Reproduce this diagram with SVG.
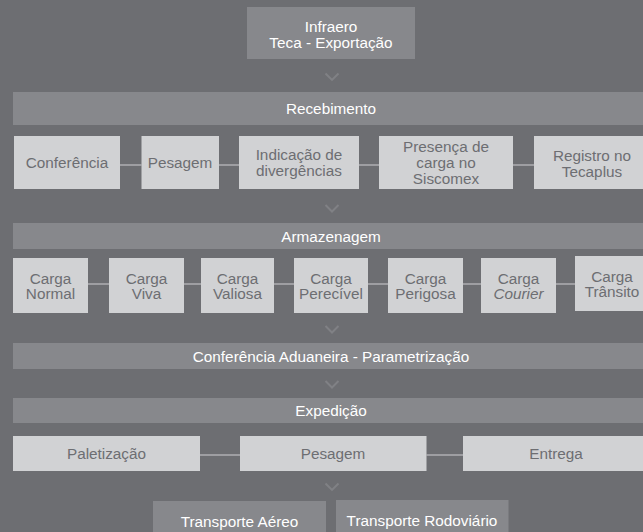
<svg xmlns="http://www.w3.org/2000/svg" width="643" height="532" viewBox="0 0 643 532">
<defs>
<style>
.bg{fill:#6d6e72}
.dk{fill:#87888c}
.lt{fill:#d1d2d4}
text{font-family:"Liberation Sans",Arial,sans-serif;font-size:15.3px;text-anchor:middle}
.tw{fill:#ffffff}
.tg{fill:#6d6e72}
.cn{stroke:#aeafb2;stroke-width:1.5;fill:none}
.ch{stroke:#808185;stroke-width:2;fill:none}
</style>
<path id="chev" d="M-6.5,-3.25 L0,3.25 L6.5,-3.25"/>
</defs>
<rect class="bg" x="0" y="0" width="643" height="532"/>

<g id="connectors">
<path class="cn" d="M120,165H141.5 M219,165H239 M359,165H379 M513,165H534"/>
<path class="cn" d="M88,284H109 M184,284H201 M274,284H294 M368,284H388 M463,284H481 M556,284H575"/>
<path class="cn" d="M200,455H240 M426.5,455H463"/>
<use href="#chev" class="ch" x="332" y="76.7"/>
<use href="#chev" class="ch" x="332" y="208.3"/>
<use href="#chev" class="ch" x="332" y="329.3"/>
<use href="#chev" class="ch" x="332" y="384.3"/>
<use href="#chev" class="ch" x="332" y="486.7"/>
</g>

<g id="infraero"><rect class="dk" x="247" y="7" width="168" height="52"/>
<text class="tw" x="331" y="32">Infraero</text><text class="tw" x="331" y="48">Teca - Exportação</text></g>

<g id="recebimento"><rect class="dk" x="13" y="92" width="630" height="33"/>
<text class="tw" x="331" y="114">Recebimento</text></g>

<g id="conferencia"><rect class="lt" x="14" y="136" width="106" height="53"/>
<text class="tg" x="67" y="168">Conferência</text></g>
<g id="pesagem1"><rect class="lt" x="141.5" y="136" width="77.5" height="53"/>
<text class="tg" x="180" y="168">Pesagem</text></g>
<g id="indicacao"><rect class="lt" x="239" y="136" width="120" height="53"/>
<text class="tg" x="299" y="160">Indicação de</text><text class="tg" x="299" y="176">divergências</text></g>
<g id="presenca"><rect class="lt" x="379" y="136" width="134" height="53"/>
<text class="tg" x="446" y="152">Presença de</text><text class="tg" x="446" y="168">carga no</text><text class="tg" x="446" y="184">Siscomex</text></g>
<g id="registro"><rect class="lt" x="534" y="136" width="116" height="53"/>
<text class="tg" x="592" y="160.5">Registro no</text><text class="tg" x="592" y="176.5">Tecaplus</text></g>

<g id="armazenagem"><rect class="dk" x="13" y="223" width="630" height="26"/>
<text class="tw" x="331" y="241.5">Armazenagem</text></g>

<g id="carga-normal"><rect class="lt" x="13" y="258" width="75" height="55"/>
<text class="tg" x="50.5" y="283.5">Carga</text><text class="tg" x="50.5" y="299">Normal</text></g>
<g id="carga-viva"><rect class="lt" x="109" y="258" width="75" height="55"/>
<text class="tg" x="146.5" y="283.5">Carga</text><text class="tg" x="146.5" y="299">Viva</text></g>
<g id="carga-valiosa"><rect class="lt" x="201" y="258" width="73" height="55"/>
<text class="tg" x="237.5" y="283.5">Carga</text><text class="tg" x="237.5" y="299">Valiosa</text></g>
<g id="carga-perecivel"><rect class="lt" x="294" y="258" width="74" height="55"/>
<text class="tg" x="331" y="283.5">Carga</text><text class="tg" x="331" y="299">Perecível</text></g>
<g id="carga-perigosa"><rect class="lt" x="388" y="258" width="75" height="55"/>
<text class="tg" x="425.5" y="283.5">Carga</text><text class="tg" x="425.5" y="299">Perigosa</text></g>
<g id="carga-courier"><rect class="lt" x="481" y="258" width="75" height="55"/>
<text class="tg" x="518.5" y="283.5">Carga</text><text class="tg" x="518.5" y="299" font-style="italic">Courier</text></g>
<g id="carga-transito"><rect class="lt" x="575" y="256" width="75" height="55"/>
<text class="tg" x="612" y="281.5">Carga</text><text class="tg" x="612" y="297">Trânsito</text></g>

<g id="conferencia-aduaneira"><rect class="dk" x="13" y="343" width="630" height="26"/>
<text class="tw" x="331" y="361.5">Conferência Aduaneira - Parametrização</text></g>

<g id="expedicao"><rect class="dk" x="13" y="398" width="630" height="25"/>
<text class="tw" x="331" y="416">Expedição</text></g>

<g id="paletizacao"><rect class="lt" x="13" y="436" width="187" height="35"/>
<text class="tg" x="106.5" y="459">Paletização</text></g>
<g id="pesagem2"><rect class="lt" x="240" y="436" width="186.5" height="35"/>
<text class="tg" x="333" y="459">Pesagem</text></g>
<g id="entrega"><rect class="lt" x="463" y="436" width="187" height="35"/>
<text class="tg" x="556" y="459">Entrega</text></g>

<g id="transporte-aereo"><rect class="dk" x="153" y="501" width="173" height="40"/>
<text class="tw" x="239.5" y="527">Transporte Aéreo</text></g>
<g id="transporte-rodoviario"><rect class="dk" x="336" y="500" width="172.5" height="40"/>
<text class="tw" x="422" y="526">Transporte Rodoviário</text></g>
</svg>
